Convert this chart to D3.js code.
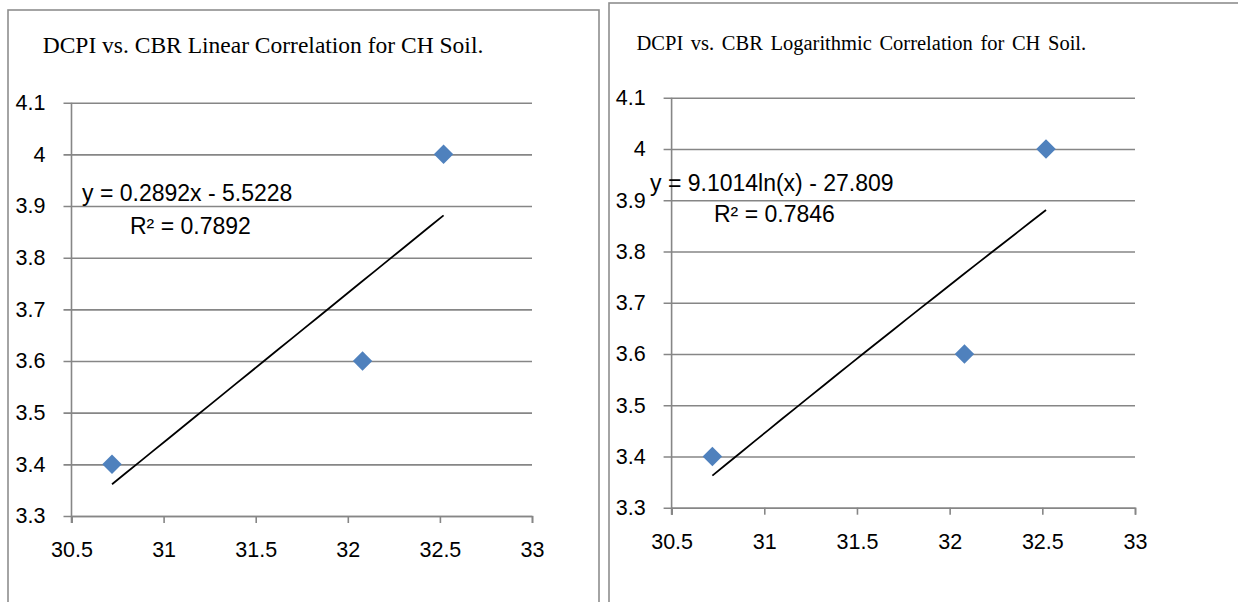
<!DOCTYPE html>
<html>
<head>
<meta charset="utf-8">
<script src="https://cdn.jsdelivr.net/npm/d3@7.9.0/dist/d3.min.js"></script>
<style>
  body { margin: 0; background: #fff; }
  svg text { font-family: 'Liberation Sans', Arial, sans-serif; fill: #000; }
  svg text.title { font-family: 'Liberation Serif', 'Times New Roman', serif; }
</style>
</head>
<body>
<svg id="chart" width="1238" height="602"></svg>
<script>
/* ---------- data --------- */
const cbr  = [30.72, 32.08, 32.52];   // x values
const dcpi = [3.4, 3.6, 4.0];         // y values
const xTicks = [30.5, 31, 31.5, 32, 32.5, 33];
const yTicks = [3.3, 3.4, 3.5, 3.6, 3.7, 3.8, 3.9, 4.0, 4.1];
const titles    = ['DCPI vs. CBR Linear Correlation for CH Soil.',
                   'DCPI vs. CBR Logarithmic Correlation for CH Soil.'];
const equations = ['y = 0.2892x - 5.5228', 'y = 9.1014ln(x) - 27.809'];
const rSquared  = ['R² = 0.7892', 'R² = 0.7846'];
const linearCoef = [0.2892, -5.5228];
const logCoef    = [9.1014, -27.809];

/* ---------- layout --------- */
const panels = [
  { frame: { x: 8,   y: 10, w: 591, h: 700 },
    area:  { l: 71.5,  r: 532,  t: 102.7, b: 516 },
    title: { x: 42.7,  y: 52.7, size: 23.5, ws: 0 },
    eq:    { x: 82,    y: 200.5 }, r2: { x: 130, y: 233.5 },
    trend: x => linearCoef[0] * x + linearCoef[1] },
  { frame: { x: 609, y: 3,  w: 700, h: 700 },
    area:  { l: 671.6, r: 1135, t: 97.7,  b: 507.7 },
    title: { x: 636.5, y: 50,   size: 20.5, ws: 2.5 },
    eq:    { x: 650,   y: 191 },   r2: { x: 714, y: 221.5 },
    trend: x => logCoef[0] * Math.log(x) + logCoef[1] },
];

const svg = d3.select('#chart');
const points = cbr.map((x, i) => ({ x, y: dcpi[i] }));
const GRID = '#868686';

panels.forEach((p, i) => {
  const a = p.area;
  const g = svg.append('g');

  // outer chart frame
  g.append('rect')
    .attr('x', p.frame.x).attr('y', p.frame.y)
    .attr('width', p.frame.w).attr('height', p.frame.h)
    .attr('fill', '#fff').attr('stroke', '#8e8e8e').attr('stroke-width', 1.6);

  g.append('text').attr('class', 'title')
    .attr('x', p.title.x).attr('y', p.title.y)
    .style('font-size', p.title.size + 'px')
    .style('word-spacing', p.title.ws + 'px')
    .text(titles[i]);

  const x = d3.scaleLinear().domain([30.5, 33]).range([a.l, a.r]);
  const y = d3.scaleLinear().domain([3.3, 4.1]).range([a.b, a.t]);

  // horizontal gridlines + y tick labels (ticks stick out 8px left)
  const yAx = g.append('g')
    .attr('transform', `translate(${a.l - 8},0)`)
    .call(d3.axisLeft(y).tickValues(yTicks).tickSize(-(a.r - a.l + 8))
      .tickPadding(18).tickFormat(d3.format('~g')));
  yAx.select('.domain').remove();
  yAx.selectAll('line').attr('stroke', GRID).attr('stroke-width', 1.6);
  yAx.selectAll('text').style('font-size', '21.5px').attr('fill', '#000');

  // x axis
  const xAx = g.append('g')
    .attr('transform', `translate(0,${a.b})`)
    .call(d3.axisBottom(x).tickValues(xTicks).tickSize(7).tickPadding(19)
      .tickFormat(d3.format('~g')));
  xAx.select('.domain').attr('stroke', GRID).attr('stroke-width', 1.6);
  xAx.selectAll('line').attr('stroke', GRID).attr('stroke-width', 1.6);
  xAx.selectAll('text').style('font-size', '21.5px').attr('fill', '#000');

  // y axis line
  g.append('line')
    .attr('x1', a.l).attr('x2', a.l).attr('y1', a.t).attr('y2', a.b + 7)
    .attr('stroke', GRID).attr('stroke-width', 1.6);

  // markers
  g.append('g').selectAll('path').data(points).join('path')
    .attr('d', d3.symbol(d3.symbolSquare, 190))
    .attr('transform', d => `translate(${x(d.x)},${y(d.y)}) rotate(45)`)
    .attr('fill', '#4F81BD');

  // trendline over the data range
  const [lo, hi] = d3.extent(cbr);
  const xs = d3.range(lo, hi, (hi - lo) / 24).concat([hi]);
  g.append('path')
    .datum(xs)
    .attr('fill', 'none').attr('stroke', '#000').attr('stroke-width', 1.8)
    .attr('d', d3.line().x(d => x(d)).y(d => y(p.trend(d))));

  // equation labels
  g.append('text').attr('x', p.eq.x).attr('y', p.eq.y)
    .style('font-size', '23px').text(equations[i]);
  g.append('text').attr('x', p.r2.x).attr('y', p.r2.y)
    .style('font-size', '23px').text(rSquared[i]);
});
</script>
</body>
</html>
